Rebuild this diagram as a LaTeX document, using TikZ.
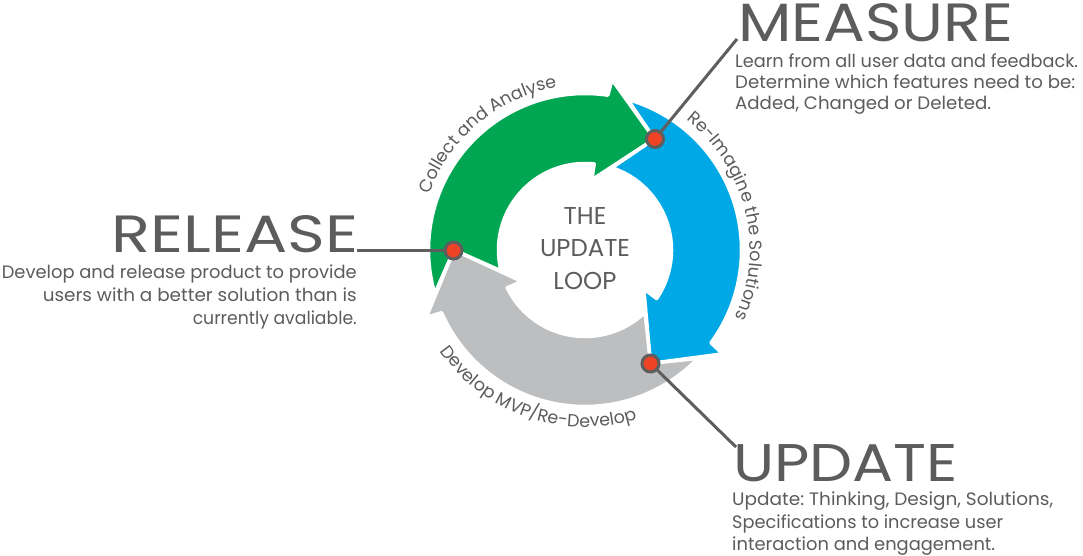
\documentclass[tikz,border=0pt]{standalone}
\usepackage{fontspec}
\setmainfont{Poppins}
\usepackage{graphicx}
\usetikzlibrary{decorations.text}
\frenchspacing
\definecolor{cgreen}{HTML}{00A651}
\definecolor{cblue}{HTML}{00A8E6}
\definecolor{cgrey}{HTML}{BCBEC0}
\definecolor{cred}{HTML}{EE4325}
\definecolor{cdark}{HTML}{5E5E5E}
\definecolor{txt}{HTML}{5C5C5C}
\newcommand\RO{156.5}
\newcommand\RI{86.5}
% #1 tail angle, #2 tip angle, #3 colour
\newcommand\loopband[3]{%
  \pgfmathsetmacro\lbA{#1-16.2}%
  \pgfmathsetmacro\lbB{#2-23.6}%
  \pgfmathsetmacro\lbC{#2-23}%
  \pgfmathsetmacro\lbD{#2-26.5}%
  \pgfmathsetmacro\lbE{#2-25.9}%
  \pgfmathsetmacro\lbF{#1-13.9}%
  \path[band,fill=#3]
    plot[domain=\lbA:\lbB,samples=90] ({585+\RO*cos(\x)},{250+\RO*sin(\x)})
    -- ({585+172.5*cos(\lbC)},{250+172.5*sin(\lbC)})
    -- ({585+131*cos(#2)},{250+131*sin(#2)})
    -- ({585+70.5*cos(\lbD)},{250+70.5*sin(\lbD)})
    -- plot[domain=\lbE:\lbF,samples=70] ({585+\RI*cos(\x)},{250+\RI*sin(\x)})
    -- ({585+131*cos(#1)},{250+131*sin(#1)})
    -- cycle;}
\newcommand\cfmt{\color{txt}\fontsize{17.5}{20}\selectfont}
\begin{document}
\begin{tikzpicture}[x=1pt,y=-1pt,
  band/.style={draw=white,line width=3.5pt,line join=round},
  dotnode/.style={circle,fill=cred,draw=cdark,line width=3pt,minimum size=17pt,inner sep=0pt},
  leader/.style={draw=cdark,line width=3pt},
  title/.style={text=txt,inner sep=0pt,font=\fontsize{54}{54}\selectfont},
  body/.style={text=txt,inner sep=0pt,font=\fontsize{18}{18}\selectfont},
  ctr/.style={text=txt,inner sep=0pt,font=\fontsize{24.4}{24.4}\selectfont,anchor=base},
  curve/.style={decorate,color=txt}]
\fill[white] (0,0) rectangle (1083,555);
\useasboundingbox (0,0) rectangle (1083,555);

% arrows
\loopband{180}{302}{cgreen}
\loopband{302}{420}{cblue}
\loopband{60}{180}{cgrey}

% curved labels
\path[curve,decoration={text along path,text align=center,
  text={|\cfmt|Collect and Analyse}}]
  plot[domain=170:290,samples=120] ({585+165*cos(\x)},{250+165*sin(\x)});
\path[curve,decoration={text along path,text align=center,
  text={|\cfmt|Re-Imagine the Solutions}}]
  plot[domain=286:406,samples=120] ({585+165*cos(\x)},{250+165*sin(\x)});
\path[curve,decoration={text along path,text align=center,
  text={|\cfmt|Develop MVP/Re-Develop}}]
  plot[domain=0:120,samples=120] ({585+177*cos(169-\x)},{250+177*sin(169-\x)});

% centre text
\node[ctr] (c1) at (585,224.5) {THE};
\node[ctr] (c2) at (585,256) {UPDATE};
\node[ctr] (c3) at (585,289) {LOOP};

% leader ends and dots
\coordinate (pm) at (655,139);
\coordinate (pu) at (650.5,363.5);
\coordinate (pr) at (453.5,250.5);
\coordinate (em) at (737,39);
\coordinate (eu) at (736,447);
\coordinate (er) at (357,250.5);
\draw[leader] (pm) -- (em);
\draw[leader] (pu) -- (eu);
\draw[leader] (pr) -- (er);
\node[dotnode] (dm) at (pm) {};
\node[dotnode] (du) at (pu) {};
\node[dotnode] (dr) at (pr) {};

% MEASURE
\node[title,anchor=base west] (mt) at (738,41.7) {\resizebox{275pt}{38pt}{MEASURE}};
\node[body,anchor=base west] (m1) at (735,67) {\resizebox{343pt}{\height}{Learn from all user data and feedback.}};
\node[body,anchor=base west] (m2) at (735,88) {\resizebox{340pt}{\height}{Determine which features need to be:}};
\node[body,anchor=base west] (m3) at (735,109) {\resizebox{256pt}{\height}{Added, Changed or Deleted.}};

% RELEASE
\node[title,anchor=base west] (rt) at (111.7,252.3) {\resizebox{246.6pt}{37pt}{RELEASE}};
\node[body,anchor=base east] (r1) at (357,278) {\resizebox{355pt}{\height}{Develop and release product to provide}};
\node[body,anchor=base east] (r2) at (357,301) {\resizebox{314pt}{\height}{users with a better solution than is}};
\node[body,anchor=base east] (r3) at (357,324) {\resizebox{164pt}{\height}{currently avaliable.}};

% UPDATE
\node[title,anchor=base west] (ut) at (733,481.7) {\resizebox{225pt}{37pt}{UPDATE}};
\node[body,anchor=base west] (u1) at (732,505) {\resizebox{321pt}{\height}{Update: Thinking, Design, Solutions,}};
\node[body,anchor=base west] (u2) at (732,528) {\resizebox{271pt}{\height}{Specifications to increase user}};
\node[body,anchor=base west] (u3) at (732,550) {\resizebox{263pt}{\height}{interaction and engagement.}};
\end{tikzpicture}
\end{document}
